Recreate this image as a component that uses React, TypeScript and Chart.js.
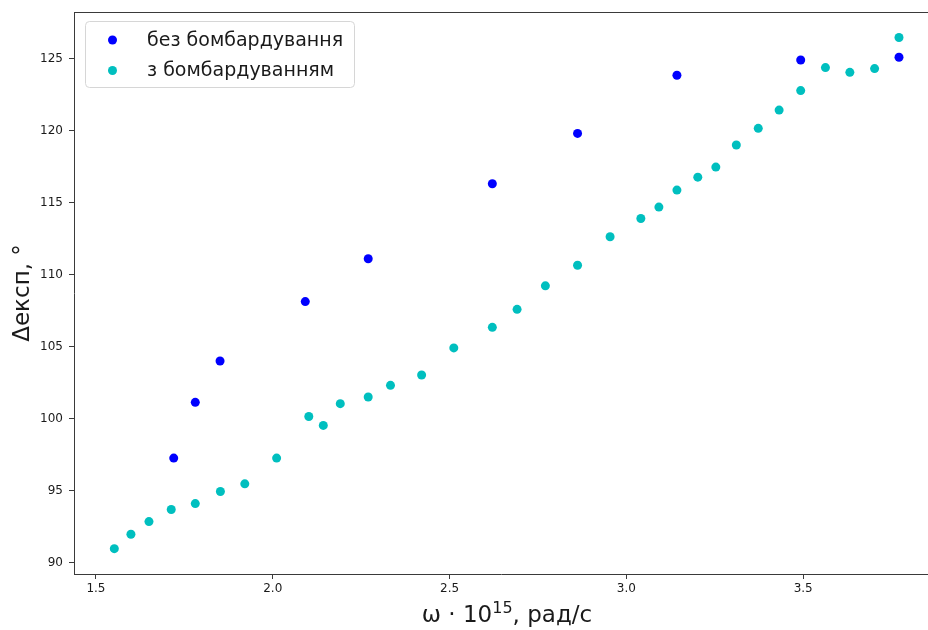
import React, { useEffect, useRef } from "react";
import { Chart, registerables } from "chart.js";

Chart.register(...registerables);

const seriesLabels = ["без бомбардування", "з бомбардуванням"];
const seriesColors = ["#0000ff", "#00bfbf"];

const noBombX = [1.72, 1.781, 1.851, 2.092, 2.27, 2.621, 2.862, 3.143, 3.493, 3.771];
const noBombY = [97.26, 101.13, 104.0, 108.13, 111.1, 116.31, 119.81, 123.85, 124.91, 125.1];

const bombX = [
  1.552, 1.599, 1.65, 1.713, 1.781, 1.852, 1.921, 2.011, 2.102, 2.143, 2.191,
  2.27, 2.333, 2.421, 2.512, 2.621, 2.691, 2.771, 2.862, 2.954, 3.041, 3.092,
  3.143, 3.202, 3.253, 3.311, 3.373, 3.432, 3.493, 3.563, 3.632, 3.702, 3.771,
];
const bombY = [
  90.97, 91.97, 92.85, 93.69, 94.1, 94.94, 95.47, 97.26, 100.15, 99.53, 101.04,
  101.5, 102.31, 103.03, 104.91, 106.34, 107.59, 109.22, 110.65, 112.63, 113.9, 114.69,
  115.87, 116.77, 117.47, 119.0, 120.16, 121.43, 122.78, 124.38, 124.05, 124.31, 126.47,
];

const xTicks = [1.5, 2.0, 2.5, 3.0, 3.5];
const yTicks = [90, 95, 100, 105, 110, 115, 120, 125];

// x title parts: base, superscript, rest
const xTitleParts = ["ω · 10", "15", ", рад/с"];
const yTitle = "Δексп, °";

const spineColor = "#3a3a3a";
const textColor = "#1a1a1a";
const font = "DejaVu Sans";

const topSpine = {
  id: "topSpine",
  afterDraw(chart: any) {
    const { ctx, chartArea } = chart;
    ctx.save();
    ctx.strokeStyle = spineColor;
    ctx.lineWidth = 1;
    ctx.beginPath();
    ctx.moveTo(chartArea.left, chartArea.top + 0.5);
    ctx.lineTo(chartArea.right, chartArea.top + 0.5);
    ctx.stroke();
    ctx.restore();
  },
};

const xTitlePlugin = {
  id: "xTitlePlugin",
  afterDraw(chart: any) {
    const { ctx, chartArea } = chart;
    const big = `23px "${font}"`;
    const small = `16px "${font}"`;
    ctx.save();
    ctx.fillStyle = textColor;
    ctx.textBaseline = "alphabetic";
    ctx.textAlign = "left";
    ctx.font = big;
    const w0 = ctx.measureText(xTitleParts[0]).width;
    const w2 = ctx.measureText(xTitleParts[2]).width;
    ctx.font = small;
    const w1 = ctx.measureText(xTitleParts[1]).width;
    const total = w0 + w1 + w2;
    const cx = chartArea.left + 433;
    let x = cx - total / 2;
    const base = 622;
    ctx.font = big;
    ctx.fillText(xTitleParts[0], x, base);
    x += w0;
    ctx.font = small;
    ctx.fillText(xTitleParts[1], x, base - 9);
    x += w1;
    ctx.font = big;
    ctx.fillText(xTitleParts[2], x, base);
    ctx.restore();
  },
};

const boxLegend = {
  id: "boxLegend",
  afterDraw(chart: any) {
    const { ctx, chartArea } = chart;
    const x = chartArea.left + 11;
    const y = chartArea.top + 9;
    const w = 269;
    const h = 66;
    ctx.save();
    ctx.fillStyle = "rgba(255,255,255,0.8)";
    ctx.strokeStyle = "#d6d6d6";
    ctx.lineWidth = 1;
    ctx.beginPath();
    (ctx as any).roundRect(x + 0.5, y + 0.5, w, h, 4);
    ctx.fill();
    ctx.stroke();
    ctx.font = `19px "${font}"`;
    ctx.textBaseline = "middle";
    chart.data.datasets.forEach((ds: any, i: number) => {
      const cy = y + 19 + i * 30.5;
      ctx.fillStyle = ds.backgroundColor;
      ctx.beginPath();
      ctx.arc(x + 27.5, cy, 4.5, 0, Math.PI * 2);
      ctx.fill();
      ctx.fillStyle = textColor;
      ctx.fillText(ds.label, x + 62, cy + 1);
    });
    ctx.restore();
  },
};

export default function App() {
  const ref = useRef<HTMLCanvasElement>(null);
  useEffect(() => {
    if (!ref.current) return;
    const chart = new Chart(ref.current, {
      type: "scatter",
      data: {
        datasets: [
          {
            label: seriesLabels[0],
            data: noBombX.map((x, i) => ({ x, y: noBombY[i] })),
            backgroundColor: seriesColors[0],
            borderWidth: 0,
            pointRadius: 4.5,
          },
          {
            label: seriesLabels[1],
            data: bombX.map((x, i) => ({ x, y: bombY[i] })),
            backgroundColor: seriesColors[1],
            borderWidth: 0,
            pointRadius: 4.5,
          },
        ],
      },
      options: {
        animation: false,
        responsive: false,
        layout: { autoPadding: false, padding: { top: 12, left: 0, right: 0, bottom: 0 } },
        plugins: { legend: { display: false }, tooltip: { enabled: false } },
        scales: {
          x: {
            type: "linear",
            min: 1.438,
            max: 3.853,
            afterBuildTicks: (s: any) => {
              s.ticks = xTicks.map((v) => ({ value: v }));
            },
            afterFit: (s: any) => {
              s.height = 56;
              s.paddingLeft = 0;
              s.paddingRight = 0;
            },
            ticks: {
              font: { family: font, size: 12 },
              color: textColor,
              padding: 3,
              maxRotation: 0,
              callback: (v: any) => Number(v).toFixed(1),
            },
            grid: { drawOnChartArea: false, drawTicks: true, tickLength: 5, color: spineColor },
            border: { display: true, color: spineColor, width: 1 },
            title: { display: false },
          },
          y: {
            type: "linear",
            min: 89.21,
            max: 128.24,
            afterBuildTicks: (s: any) => {
              s.ticks = yTicks.map((v) => ({ value: v }));
            },
            afterFit: (s: any) => {
              s.width = 74;
              s.paddingTop = 0;
              s.paddingBottom = 0;
            },
            ticks: {
              font: { family: font, size: 12 },
              color: textColor,
              padding: 6,
              callback: (v: any) => String(v),
            },
            grid: { drawOnChartArea: false, drawTicks: true, tickLength: 5, color: spineColor },
            border: { display: true, color: spineColor, width: 1 },
            title: {
              display: true,
              text: yTitle,
              font: { family: font, size: 23 },
              color: textColor,
              padding: { top: 9, bottom: 0 },
            },
          },
        },
      },
      plugins: [topSpine, boxLegend, xTitlePlugin],
    });
    return () => chart.destroy();
  }, []);
  return (
    <div style={{ position: "fixed", left: 0, top: 0, width: 928, height: 630, background: "#fff" }}>
      <canvas ref={ref} width={928} height={630} style={{ display: "block" }} />
    </div>
  );
}
